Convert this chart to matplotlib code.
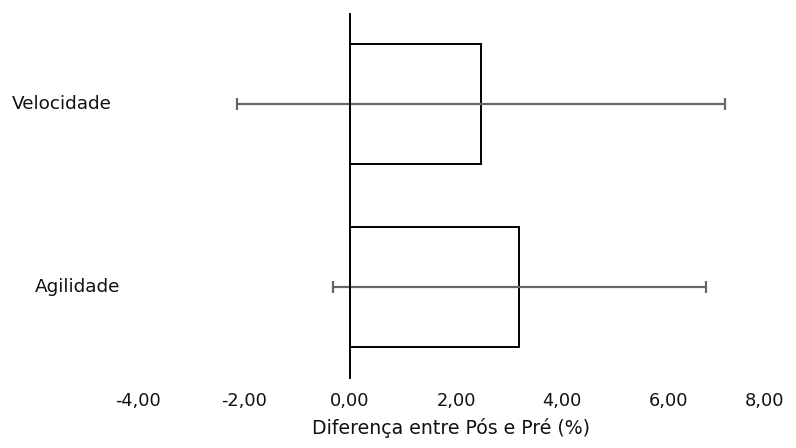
import matplotlib
matplotlib.use("Agg")
import matplotlib.pyplot as plt
import matplotlib.transforms as mtransforms
from matplotlib.ticker import FuncFormatter, FixedLocator

categories = ["Agilidade", "Velocidade"]
values = [3.19, 2.47]
errors = [3.52, 4.61]
x_ticks = [-4, -2, 0, 2, 4, 6, 8]
x_label = "Diferença entre Pós e Pré (%)"

plt.rcParams['font.family'] = ['DejaVu Sans']

fig = plt.figure(figsize=(7.96, 4.48), dpi=100)
ax = fig.add_axes([138/796, 1 - 378.5/448, (774 - 138)/796, (378.5 - 12.5)/448])

ypos = list(range(len(categories)))
ax.barh(ypos, values, height=0.66, color="white", edgecolor="black", linewidth=1.4, zorder=2)
ax.errorbar(values, ypos, xerr=errors, fmt="none", ecolor="#666666", elinewidth=1.6,
            capsize=4, capthick=1.6, zorder=3)

ax.set_xlim(x_ticks[0], x_ticks[-1])
ax.set_ylim(-0.5, len(categories) - 0.5)
ax.xaxis.set_major_locator(FixedLocator(x_ticks))
ax.xaxis.set_major_formatter(FuncFormatter(lambda v, p: f"{v:.2f}".replace(".", ",")))

for s in ["top", "right", "bottom", "left"]:
    ax.spines[s].set_visible(False)
ax.axvline(0, color="black", linewidth=1.4, zorder=4)

ax.tick_params(axis="x", length=0, pad=10, labelsize=12.8, colors="#111111")
ax.set_xlabel(x_label, fontsize=13.6, color="#111111")
ax.xaxis.set_label_coords((451 - 138) / (774 - 138), -0.107)

fig.canvas.draw()
last = ax.get_xticklabels()[-1]
last.set_transform(last.get_transform() + mtransforms.ScaledTranslation(-9 / 100, 0, fig.dpi_scale_trans))

ax.set_yticks(ypos)
ax.set_yticklabels([])
ax.tick_params(axis="y", length=0)
label_x = {"Agilidade": 35, "Velocidade": 12}
for cat, y in zip(categories, ypos):
    ax.annotate(cat, xy=(0, y), xycoords=("figure pixels", "data"),
                xytext=(label_x[cat] * 72 / 100, 0), textcoords="offset points",
                ha="left", va="center", fontsize=13.2, color="#111111")

fig.savefig("out.png", dpi=100)
